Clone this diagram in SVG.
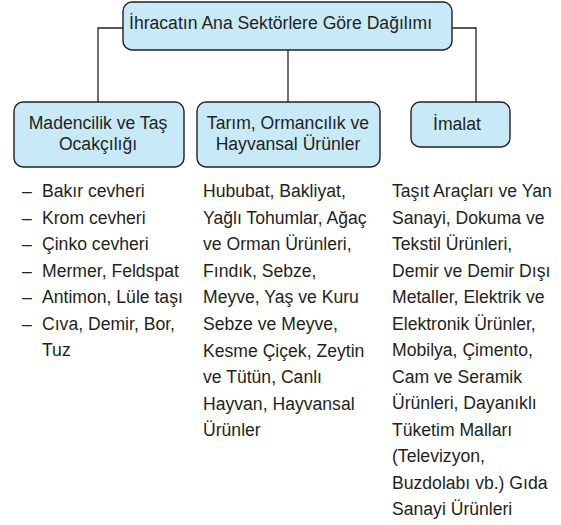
<svg xmlns="http://www.w3.org/2000/svg" width="561" height="525" viewBox="0 0 561 525">
<style>
.box{fill:#c8eaf8;stroke:#231f20;stroke-width:1.4}
.t{font-family:"Liberation Sans",Arial,sans-serif;font-size:17.6px;fill:#231f20}
.c{text-anchor:middle}
.ln{fill:none;stroke:#231f20;stroke-width:1.3}
</style>
<rect width="561" height="525" fill="#ffffff"/>
<g id="connectors">
<polyline class="ln" points="123,28 98,28 98,103"/>
<polyline class="ln" points="452,28 476,28 476,103"/>
<line class="ln" x1="288" y1="50" x2="288" y2="103"/>
</g>
<g id="root">
<rect class="box" x="123" y="2" width="329" height="48" rx="9"/>
<text class="t" x="129" y="29">İhracatın Ana Sektörlere Göre Dağılımı</text>
</g>
<g id="madencilik">
<rect class="box" x="14" y="102" width="170" height="65" rx="9"/>
<text class="t c" x="98" y="129">Madencilik ve Taş</text>
<text class="t c" x="98" y="150">Ocakçılığı</text>
</g>
<g id="tarim">
<rect class="box" x="197" y="102" width="183" height="65" rx="9"/>
<text class="t c" x="288" y="129">Tarım, Ormancılık ve</text>
<text class="t c" x="288" y="150">Hayvansal Ürünler</text>
</g>
<g id="imalat">
<rect class="box" x="411" y="102" width="99" height="45" rx="9"/>
<text class="t c" x="457" y="130">İmalat</text>
</g>
<g id="madencilik-list">
<text class="t"><tspan x="22" y="197">–</tspan><tspan x="42" y="197">Bakır cevheri</tspan></text>
<text class="t"><tspan x="22" y="223.5">–</tspan><tspan x="42" y="223.5">Krom cevheri</tspan></text>
<text class="t"><tspan x="22" y="250">–</tspan><tspan x="42" y="250">Çinko cevheri</tspan></text>
<text class="t"><tspan x="22" y="276.5">–</tspan><tspan x="42" y="276.5">Mermer, Feldspat</tspan></text>
<text class="t"><tspan x="22" y="303">–</tspan><tspan x="42" y="303">Antimon, Lüle taşı</tspan></text>
<text class="t"><tspan x="22" y="329.5">–</tspan><tspan x="42" y="329.5">Cıva, Demir, Bor,</tspan></text>
<text class="t" x="42" y="356">Tuz</text>
</g>
<g id="tarim-list">
<text class="t" x="203" y="197">Hububat, Bakliyat,</text>
<text class="t" x="203" y="223.6">Yağlı Tohumlar, Ağaç</text>
<text class="t" x="203" y="250.2">ve Orman Ürünleri,</text>
<text class="t" x="203" y="276.8">Fındık, Sebze,</text>
<text class="t" x="203" y="303.4">Meyve, Yaş ve Kuru</text>
<text class="t" x="203" y="330">Sebze ve Meyve,</text>
<text class="t" x="203" y="356.6">Kesme Çiçek, Zeytin</text>
<text class="t" x="203" y="383.2">ve Tütün, Canlı</text>
<text class="t" x="203" y="409.8">Hayvan, Hayvansal</text>
<text class="t" x="203" y="436.4">Ürünler</text>
</g>
<g id="imalat-list">
<text class="t" x="392" y="197">Taşıt Araçları ve Yan</text>
<text class="t" x="392" y="223.5">Sanayi, Dokuma ve</text>
<text class="t" x="392" y="250">Tekstil Ürünleri,</text>
<text class="t" x="392" y="276.5">Demir ve Demir Dışı</text>
<text class="t" x="392" y="303">Metaller, Elektrik ve</text>
<text class="t" x="392" y="329.5">Elektronik Ürünler,</text>
<text class="t" x="392" y="356">Mobilya, Çimento,</text>
<text class="t" x="392" y="382.5">Cam ve Seramik</text>
<text class="t" x="392" y="409">Ürünleri, Dayanıklı</text>
<text class="t" x="392" y="435.5">Tüketim Malları</text>
<text class="t" x="392" y="462">(Televizyon,</text>
<text class="t" x="392" y="488.5">Buzdolabı vb.) Gıda</text>
<text class="t" x="392" y="515">Sanayi Ürünleri</text>
</g>
</svg>
